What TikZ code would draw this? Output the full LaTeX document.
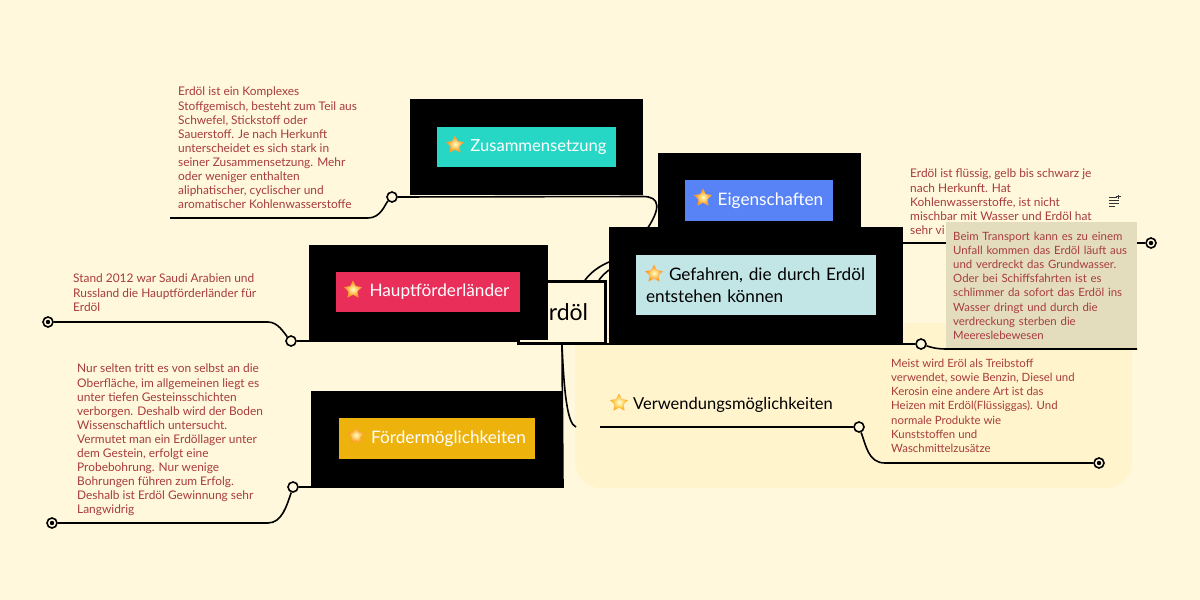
\documentclass[tikz,border=0pt]{standalone}
\usepackage{fontspec}
\setmainfont{Lato}
\usepackage{tikz}
\usetikzlibrary{shapes.geometric}
\definecolor{bgcol}{HTML}{FFF8DC}
\definecolor{regioncol}{HTML}{FFF4CC}
\definecolor{notecol}{HTML}{A83C3C}
\definecolor{beigecol}{HTML}{E3DDBD}
\tikzstyle{blackbox}=[rectangle, inner sep=0mm, draw=black, fill=black]
\tikzstyle{topic}=[rectangle, inner sep=0mm, font=\fontsize{17.2}{21.5}\selectfont]
\tikzstyle{note}=[anchor=north west, inner sep=0mm, align=left, text=notecol, font=\fontsize{11.9}{14.1}\selectfont]
\tikzstyle{opendot}=[circle, inner sep=0mm, minimum size=10pt, line width=1.6pt, draw=black, fill=bgcol]
\tikzstyle{enddot}=[opendot, path picture={\fill[black] (path picture bounding box.center) circle (2.2pt);}]
\tikzstyle{staricon}=[star, star points=5, star point ratio=2.0, inner sep=0mm, minimum size=18pt, draw=orange!70!white, line width=.3pt, inner color=yellow!25!white, outer color=orange!90!yellow]
\tikzstyle{link}=[line width=1.6pt, black]
\begin{document}
\begin{tikzpicture}[x=1pt, y=-1pt]
    \path[fill=bgcol, use as bounding box] (0,0) rectangle (1200,600);
    \fill[regioncol, rounded corners=26pt] (575,323) rectangle (1132,488);

    \node[rectangle, draw=black, line width=3.4pt, fill=bgcol, minimum width=87pt, minimum height=62pt, inner sep=0mm, font=\fontsize{23}{26}\selectfont] (erdoel) at (562,312.5) {Erdöl};

    \node[opendot] (zusdot) at (392,197) {};
    \node[opendot] (eigdot) at (880,243) {};
    \node[opendot] (hauptdot) at (291,341) {};
    \node[opendot] (foerdot) at (293,487) {};
    \node[opendot] (gefdot) at (921,344) {};
    \node[opendot] (verdot) at (859,427) {};
    \node[enddot] (hauptend) at (48,322) {};
    \node[enddot] (foerend) at (52,523) {};
    \node[enddot] (eigend) at (1151,243) {};
    \node[enddot] (verend) at (1099,463) {};
    \coordinate (zusend) at (170,218);
    \coordinate (gefend) at (1137,349);
    \coordinate (verstart) at (600,427);
    \coordinate (a) at (585,280);
    \coordinate (b) at (599,280);

    \draw[link] (zusend) -- (368,218) .. controls (381,218) and (385,204) .. (zusdot);
    \draw[link] (hauptend) -- (268,322) .. controls (278,322) and (284,333) .. (hauptdot);
    \draw[link] (hauptdot) -- (erdoel.west |- hauptdot);
    \draw[link] (foerend) -- (268,523) .. controls (282,523) and (287,505) .. (foerdot);
    \draw[link] (erdoel.south) .. controls (564,390) and (567,424) .. (576,427);
    \draw[link] (verstart) -- (verdot);
    \draw[link] (verdot) .. controls (866,445) and (868,463) .. (885,463) -- (verend);
    \draw[link] (eigdot) -- (eigend);
    \draw[link] (a) .. controls (592,271) and (600,266) .. (609,262);
    \draw[link] (b) .. controls (602,276) and (605,273) .. (609,270);

    \node[blackbox, minimum width=232pt, minimum height=95pt] (zusbox) at (526.5,147) {};
    \node[blackbox, minimum width=202pt, minimum height=90pt] (eigbox) at (759.5,198) {};
    \node[blackbox, minimum width=238pt, minimum height=94pt] (hauptbox) at (428,292) {};
    \node[blackbox, minimum width=251pt, minimum height=94pt] (foerbox) at (437,438) {};

    \draw[link] (zusdot) -- (643,196.5) .. controls (660,196.5) and (662,208) .. (645,232);
    \draw[link] (foerdot) -- (563,487) -- (erdoel.south);

    \node[blackbox, minimum width=293pt, minimum height=115pt] (gefbox) at (756,285) {};

    \node[topic, fill={rgb,255:red,38;green,215;blue,198}, text=white, minimum width=179pt, minimum height=40pt, font=\fontsize{16.6}{21}\selectfont] (zus) at (526.5,147) {\hspace{24pt}Zusammensetzung};
    \node[topic, fill={rgb,255:red,88;green,131;blue,246}, text=white, minimum width=148pt, minimum height=41pt] (eig) at (759,200.5) {\hspace{23pt}Eigenschaften};
    \node[topic, fill={rgb,255:red,233;green,46;blue,90}, text=white, minimum width=184pt, minimum height=40pt] (haupt) at (428,292) {\hspace{23pt}Hauptförderländer};
    \node[topic, fill={rgb,255:red,237;green,178;blue,12}, text=white, minimum width=196pt, minimum height=41pt] (foer) at (437,438.5) {\hspace{23pt}Fördermöglichkeiten};
    \node[topic, fill={rgb,255:red,194;green,230;blue,230}, text=black, minimum width=240pt, minimum height=60pt, text width=220pt, align=left] (gef) at (756,285) {\hspace*{23pt}Gefahren, die durch Erdöl\\entstehen können};
    \node[topic, anchor=west, text=black, font=\fontsize{16.5}{21}\selectfont] (ver) at (633,405) {Verwendungsmöglichkeiten};

    \node[staricon] (zusstar) at (455,145) {};
    \node[staricon] (eigstar) at (703,198) {};
    \node[staricon] (hauptstar) at (353,290) {};
    \node[staricon] (foerstar) at (356,436) {};
    \node[staricon] (gefstar) at (654,274) {};
    \node[staricon, inner color=yellow!15!white, outer color=orange!60!yellow] (verstar) at (619,403) {};

    \node[note] (zusnote) at (178,87) {Erdöl ist ein Komplexes\\Stoffgemisch, besteht zum Teil aus\\Schwefel, Stickstoff oder\\Sauerstoff. Je nach Herkunft\\unterscheidet es sich stark in\\seiner Zusammensetzung. Mehr\\oder weniger enthalten\\aliphatischer, cyclischer und\\aromatischer Kohlenwasserstoffe};
    \node[note] (eignote) at (910,169) {Erdöl ist flüssig, gelb bis schwarz je\\nach Herkunft. Hat\\Kohlenwasserstoffe, ist nicht\\mischbar mit Wasser und Erdöl hat\\sehr vi};
    \node[note] (hauptnote) at (73,274) {Stand 2012 war Saudi Arabien und\\Russland die Hauptförderländer für\\Erdöl};
    \node[note] (foernote) at (77,364) {Nur selten tritt es von selbst an die\\Oberfläche, im allgemeinen liegt es\\unter tiefen Gesteinsschichten\\verborgen. Deshalb wird der Boden\\Wissenschaftlich untersucht.\\Vermutet man ein Erdöllager unter\\dem Gestein, erfolgt eine\\Probebohrung. Nur wenige\\Bohrungen führen zum Erfolg.\\Deshalb ist Erdöl Gewinnung sehr\\Langwidrig};
    \node[note, font=\fontsize{11.4}{14.1}\selectfont] (vernote) at (891,359) {Meist wird Eröl als Treibstoff\\verwendet, sowie Benzin, Diesel und\\Kerosin eine andere Art ist das\\Heizen mit Erdöl(Flüssiggas). Und\\normale Produkte wie\\Kunststoffen und\\Waschmittelzusätze};
    \node[note, fill=beigecol, inner xsep=7pt, inner ysep=7pt, minimum width=191pt, minimum height=127pt, text width=177pt, font=\fontsize{11.4}{14.1}\selectfont] (gefnote) at (946,222) {Beim Transport kann es zu einem\\Unfall kommen das Erdöl läuft aus\\und verdreckt das Grundwasser.\\Oder bei Schiffsfahrten ist es\\schlimmer da sofort das Erdöl ins\\Wasser dringt und durch die\\verdreckung sterben die\\Meereslebewesen};

    \draw[link] (erdoel.east |- gefdot) -- (gefdot) .. controls (930,347) and (936,349) .. (946,349) -- (gefend);

    \draw[line width=1pt, black!80] (1109,197) -- (1117,197) (1109,200) -- (1119,200) (1109,203) -- (1119,203) (1109,206) -- (1115,206);
    \draw[line width=.8pt, black!80] (1118,194.5) -- (1118,199) (1116,196.7) -- (1120.5,196.7);
  \end{tikzpicture}
\end{document}
